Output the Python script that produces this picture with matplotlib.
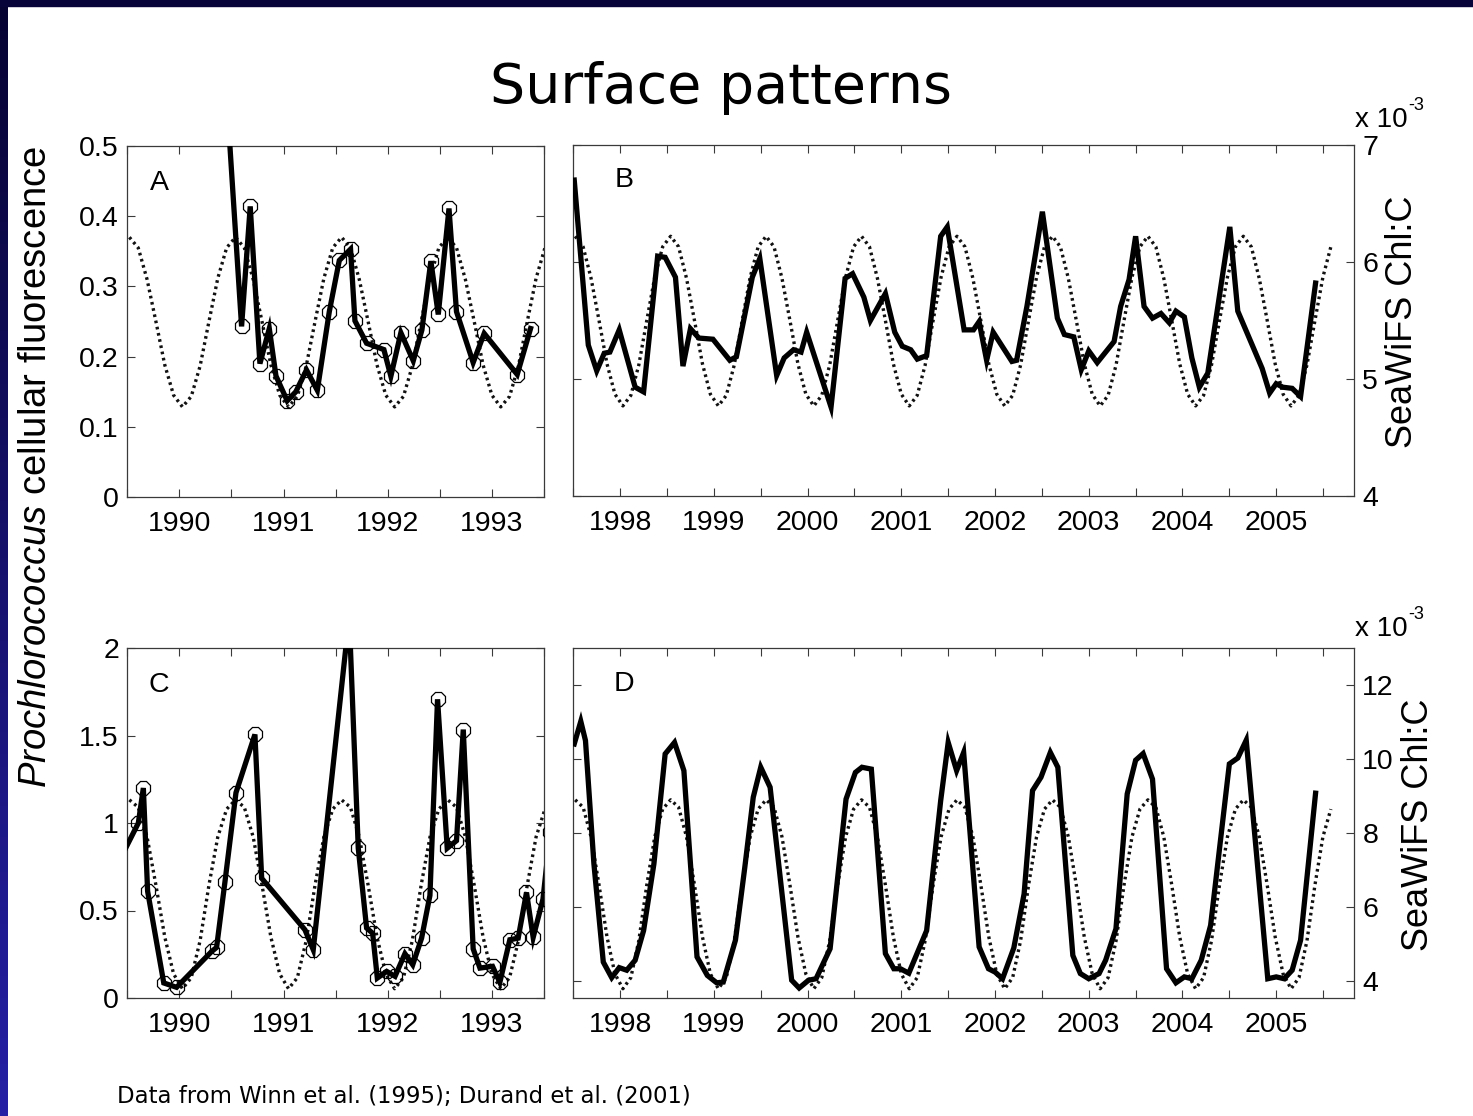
import numpy as np
import matplotlib
matplotlib.use("Agg")
import matplotlib.pyplot as plt
from matplotlib.patches import Rectangle

# ---------------- data ----------------
# Panel A: Prochlorococcus cellular fluorescence (Winn et al. 1995), surface
a_time = [1990.437, 1990.597, 1990.680, 1990.773, 1990.863, 1990.927, 1991.035,
          1991.118, 1991.220, 1991.324, 1991.439, 1991.535, 1991.643, 1991.685,
          1991.797, 1991.963, 1992.030, 1992.126, 1992.245, 1992.328, 1992.414,
          1992.485, 1992.588, 1992.660, 1992.820, 1992.926, 1993.243, 1993.371]
a_fluor = [0.61, 0.243, 0.414, 0.190, 0.240, 0.1725, 0.137, 0.150, 0.181, 0.152,
           0.264, 0.337, 0.353, 0.251, 0.219, 0.210, 0.172, 0.234, 0.194, 0.238,
           0.336, 0.260, 0.411, 0.264, 0.1915, 0.233, 0.1745, 0.240]

# Panel C: Prochlorococcus cellular fluorescence, second site
c_time = [1989.40, 1989.606, 1989.654, 1989.695, 1989.850, 1989.973, 1990.310,
          1990.357, 1990.437, 1990.543, 1990.725, 1990.790, 1991.205, 1991.285,
          1991.630, 1991.717, 1991.797, 1991.855, 1991.900, 1991.990, 1992.070,
          1992.165, 1992.240, 1992.325, 1992.405, 1992.478, 1992.571, 1992.660,
          1992.725, 1992.820, 1992.885, 1993.006, 1993.076, 1993.172, 1993.252,
          1993.332, 1993.396, 1993.490, 1993.56]
c_fluor = [0.757, 1.00, 1.20, 0.61, 0.086, 0.061, 0.266, 0.289, 0.662, 1.173,
           1.506, 0.684, 0.39, 0.276, 2.18, 0.856, 0.40, 0.37, 0.114, 0.152,
           0.124, 0.253, 0.19, 0.342, 0.586, 1.707, 0.856, 0.899, 1.534, 0.281,
           0.171, 0.181, 0.089, 0.333, 0.342, 0.603, 0.346, 0.565, 0.95]

# Panel B: SeaWiFS Chl:C (x 1e-3)
b_time = [1997.51, 1997.66, 1997.75, 1997.83, 1997.89, 1997.99, 1998.16, 1998.25,
          1998.40, 1998.48, 1998.59, 1998.67, 1998.75, 1998.84, 1998.99, 1999.17,
          1999.24, 1999.41, 1999.49, 1999.67, 1999.75, 1999.85, 1999.93, 1999.99,
          2000.25, 2000.40, 2000.48, 2000.60, 2000.67, 2000.83, 2000.93, 2001.01,
          2001.10, 2001.17, 2001.27, 2001.42, 2001.49, 2001.67, 2001.77, 2001.83,
          2001.91, 2001.98, 2002.18, 2002.23, 2002.34, 2002.505, 2002.665, 2002.74,
          2002.84, 2002.92, 2003.00, 2003.09, 2003.27, 2003.34, 2003.43, 2003.50,
          2003.59, 2003.68, 2003.77, 2003.86, 2003.93, 2004.02, 2004.10, 2004.18,
          2004.27, 2004.505, 2004.59, 2004.76, 2004.85, 2004.93, 2005.00, 2005.07,
          2005.17, 2005.26, 2005.42]
b_chl = [6.70, 5.29, 5.07, 5.22, 5.23, 5.42, 4.93, 4.89, 6.05, 6.04, 5.87, 5.11,
         5.43, 5.35, 5.34, 5.16, 5.19, 5.87, 6.03, 5.03, 5.18, 5.25, 5.23, 5.40,
         4.76, 5.86, 5.90, 5.70, 5.50, 5.73, 5.40, 5.28, 5.25, 5.17, 5.20, 6.22,
         6.30, 5.42, 5.42, 5.49, 5.16, 5.40, 5.15, 5.16, 5.62, 6.43, 5.52, 5.38,
         5.36, 5.08, 5.24, 5.14, 5.32, 5.62, 5.85, 6.22, 5.62, 5.52, 5.56, 5.48,
         5.58, 5.53, 5.18, 4.93, 5.05, 6.30, 5.58, 5.26, 5.09, 4.88, 4.96, 4.93,
         4.92, 4.85, 5.82]

# Panel D: SeaWiFS Chl:C (x 1e-3)
d_time = [1997.51, 1997.58, 1997.63, 1997.72, 1997.82, 1997.91, 1997.99, 1998.07,
          1998.16, 1998.25, 1998.36, 1998.48, 1998.58, 1998.68, 1998.82, 1998.93,
          1999.03, 1999.10, 1999.23, 1999.33, 1999.42, 1999.50, 1999.60, 1999.83,
          1999.91, 2000.01, 2000.09, 2000.24, 2000.41, 2000.51, 2000.58, 2000.68,
          2000.83, 2000.92, 2000.99, 2001.08, 2001.27, 2001.42, 2001.50, 2001.59,
          2001.665, 2001.83, 2001.93, 2002.00, 2002.08, 2002.20, 2002.31, 2002.40,
          2002.49, 2002.59, 2002.67, 2002.83, 2002.91, 2003.00, 2003.11, 2003.18,
          2003.29, 2003.41, 2003.50, 2003.58, 2003.68, 2003.83, 2003.93, 2004.02,
          2004.10, 2004.20, 2004.30, 2004.50, 2004.59, 2004.68, 2004.91, 2005.00,
          2005.085, 2005.17, 2005.26, 2005.42]
d_chl = [10.41, 11.02, 10.50, 7.17, 4.52, 4.10, 4.37, 4.30, 4.57, 5.37, 7.17, 10.14,
         10.45, 9.69, 4.66, 4.16, 3.96, 3.98, 5.11, 7.08, 8.97, 9.78, 9.24, 4.03,
         3.82, 4.03, 4.07, 4.88, 8.92, 9.64, 9.78, 9.73, 4.75, 4.34, 4.34, 4.22,
         5.37, 8.88, 10.45, 9.69, 10.18, 4.93, 4.34, 4.25, 4.07, 4.9, 6.36, 9.15,
         9.51, 10.18, 9.78, 4.70, 4.21, 4.07, 4.21, 4.57, 5.42, 9.06, 9.97, 10.15,
         9.46, 4.34, 3.96, 4.12, 4.07, 4.57, 5.51, 9.87, 10.03, 10.51, 4.07, 4.12,
         4.07, 4.30, 5.11, 9.08]

# Monthly SeaWiFS Chl:C climatologies (x 1e-3), July ... June, repeated each year
clim_b = [6.22, 6.13, 5.86, 5.50, 5.13, 4.87, 4.77, 4.86, 5.12, 5.50, 5.87, 6.13]
clim_d = [8.90, 8.70, 7.90, 6.60, 5.20, 4.20, 3.80, 4.10, 5.10, 6.60, 7.90, 8.65]
clim_step = 31 / 365.25          # climatology plotted in 31-day steps
clim_start_early, clim_n_early = 1989.52, 48
clim_start_late, clim_n_late = 1997.52, 96

years_early = [1990, 1991, 1992, 1993]
years_late = [1998, 1999, 2000, 2001, 2002, 2003, 2004, 2005]

# ---------------- style ----------------
plt.rcParams['font.family'] = ['Liberation Sans', 'DejaVu Sans']
plt.rcParams['mathtext.fontset'] = 'custom'
plt.rcParams['mathtext.it'] = 'Liberation Sans:italic'
plt.rcParams['mathtext.rm'] = 'Liberation Sans'

W, H = 1473, 1116
fig = plt.figure(figsize=(W / 100, H / 100), dpi=100)
fig.patch.set_facecolor('white')

def fr(x0, y0, x1, y1):
    return [x0 / W, 1 - y1 / H, (x1 - x0) / W, (y1 - y0) / H]

# slide decoration
fig.patches.append(Rectangle((0, 1 - 6 / H), 1, 6 / H, transform=fig.transFigure,
                             color='#07043a', zorder=0))
band = fig.add_axes([0, 0, 8 / W, 1])
grad = np.linspace(0, 1, 256)[:, None, None]
top_c = np.array([6, 3, 50]) / 255
bot_c = np.array([38, 32, 165]) / 255
img = top_c[None, None, :] * (1 - grad) + bot_c[None, None, :] * grad
band.imshow(img, aspect='auto', extent=[0, 1, 1, 0])
band.set_axis_off()

SPINE = '#3a3a3a'
TICKFS = 20.5
SOLID = dict(color='black', lw=3.8, solid_joinstyle='miter', zorder=3)
DOT = dict(color='#111111', lw=2.4, ls=(0, (0.8, 1.1)), zorder=2)
MARK = dict(marker='8', ms=10.5, mfc='none', mec='black', mew=0.9)

def style_axis(ax, xlim, years):
    ax.set_xlim(*xlim)
    ax.set_xticks(years)
    ax.set_xticklabels([str(y) for y in years])
    ax.set_xticks([y + 0.5 for y in [years[0] - 1] + years], minor=True)
    ax.tick_params(which='both', direction='in', length=5.5, width=0.8,
                   color=SPINE, top=True, bottom=True, left=True, right=True,
                   labelsize=TICKFS)
    ax.tick_params(axis='x', which='both', pad=10)
    ax.tick_params(axis='y', which='both', pad=6)
    for s in ax.spines.values():
        s.set_color(SPINE)
        s.set_linewidth(0.9)

def hide_twin(ax2):
    ax2.set_axis_off()

def letter(ax, s, x, y):
    ax.text(x, y, s, transform=ax.transAxes, ha='center', va='center',
            fontsize=TICKFS, zorder=5)

clim_t_early = clim_start_early + clim_step * np.arange(clim_n_early)
clim_t_late = clim_start_late + clim_step * np.arange(clim_n_late)

# ---------- Panel A ----------
axA = fig.add_axes(fr(127.3, 146, 544, 497))
axA2 = axA.twinx()
axA2.plot(clim_t_early, np.resize(clim_b, clim_n_early), **DOT)
axA2.set_ylim(4, 7)
hide_twin(axA2)
axA.set_zorder(axA2.get_zorder() + 1)
axA.patch.set_visible(False)
axA.plot(a_time, a_fluor, **SOLID, **MARK)
axA.set_ylim(0, 0.5)
axA.set_yticks([0, 0.1, 0.2, 0.3, 0.4, 0.5])
axA.set_yticklabels(['0', '0.1', '0.2', '0.3', '0.4', '0.5'])
style_axis(axA, (1989.5, 1993.5), years_early)
letter(axA, 'A', 0.076, 0.895)

# ---------- Panel C ----------
axC = fig.add_axes(fr(127.3, 648, 544, 998))
axC2 = axC.twinx()
axC2.plot(clim_t_early, np.resize(clim_d, clim_n_early), **DOT)
axC2.set_ylim(3.55, 13.0)
hide_twin(axC2)
axC.set_zorder(axC2.get_zorder() + 1)
axC.patch.set_visible(False)
axC.plot(c_time, c_fluor, **SOLID, **MARK)
axC.set_ylim(0, 2)
axC.set_yticks([0, 0.5, 1, 1.5, 2])
axC.set_yticklabels(['0', '0.5', '1', '1.5', '2'])
style_axis(axC, (1989.5, 1993.5), years_early)
letter(axC, 'C', 0.076, 0.894)

# ---------- Panel B ----------
axB = fig.add_axes(fr(573.3, 145, 1354, 496))
axB.plot(clim_t_late, np.resize(clim_b, clim_n_late), **DOT)
axB.plot(b_time, b_chl, **SOLID)
axB.set_ylim(4, 7)
axB.set_yticks([4, 5, 6, 7])
axB.set_yticklabels(['4', '5', '6', '7'])
style_axis(axB, (1997.5, 2005.83), years_late)
axB.tick_params(axis='y', labelleft=False, labelright=True)
letter(axB, 'B', 0.0646, 0.90)

# ---------- Panel D ----------
axD = fig.add_axes(fr(573.3, 648, 1354, 998))
axD.plot(clim_t_late, np.resize(clim_d, clim_n_late), **DOT)
axD.plot(d_time, d_chl, **SOLID)
axD.set_ylim(3.55, 13.0)
axD.set_yticks([4, 6, 8, 10, 12])
axD.set_yticklabels(['4', '6', '8', '10', '12'])
style_axis(axD, (1997.5, 2005.83), years_late)
axD.tick_params(axis='y', labelleft=False, labelright=True)
letter(axD, 'D', 0.065, 0.896)

# ---------- texts ----------
fig.text(721.5 / W, 1 - 88 / H, 'Surface patterns', family='DejaVu Sans',
         fontsize=40, ha='center', va='center')
fig.text(117 / W, 1 - 1103 / H, 'Data from Winn et al. (1995); Durand et al. (2001)',
         family='DejaVu Sans', fontsize=16.4, ha='left', va='baseline')
fig.text(36 / W, 1 - 467 / H, r'$\mathit{Prochlorococcus}$ cellular fluorescence',
         rotation=90, fontsize=27.5, ha='center', va='center')
fig.text(1403 / W, 1 - 322 / H, 'SeaWiFS Chl:C', rotation=90, fontsize=26,
         ha='center', va='center')
fig.text(1419 / W, 1 - 825 / H, 'SeaWiFS Chl:C', rotation=90, fontsize=26,
         ha='center', va='center')
# axis multipliers, placed just above the top right tick label
for base in (127, 636):
    fig.text(1355 / W, 1 - base / H, 'x 10', fontsize=20, ha='left', va='baseline')
    fig.text(1408 / W, 1 - (base - 17) / H, '-3', fontsize=13, ha='left', va='baseline')

fig.savefig('out.png', dpi=100, facecolor='white')
